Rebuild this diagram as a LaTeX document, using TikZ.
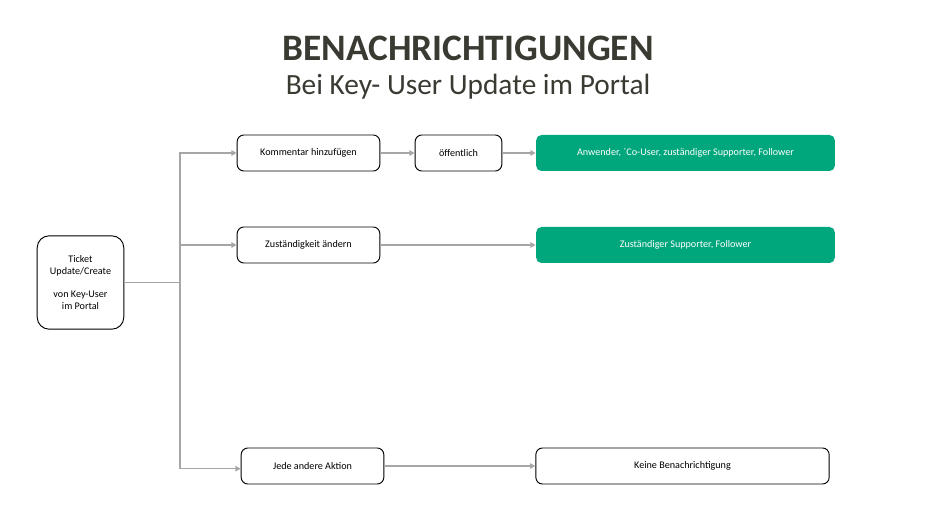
\documentclass[tikz,border=0pt]{standalone}
\usepackage{fontspec}
\setmainfont{Carlito}
\usepackage{tikz}
\usetikzlibrary{arrows.meta, positioning}
\definecolor{gruen}{HTML}{00A67C}
\definecolor{titelgrau}{HTML}{3A3A33}
\definecolor{linie}{HTML}{A6A6A6}

\begin{document}
\begin{tikzpicture}[x=0.75pt, y=-0.75pt,
    kasten/.style={draw, rounded corners=5pt, line width=0.7pt, minimum height=27pt,
                   align=center, font=\fontsize{7.6}{9}\selectfont, fill=white},
    ziel/.style={kasten, draw=none, fill=gruen, text=white, rounded corners=4pt},
    seta/.style={-{Triangle[length=4pt, width=4pt]}, line width=1.2pt, linie},
    stamm/.style={line width=1.2pt, linie}
]
    \useasboundingbox (0,0) rectangle (935,513);
    \node[font=\fontsize{28}{32}\selectfont\bfseries, text=titelgrau] (titel) at (468,48) {BENACHRICHTIGUNGEN};
    \node[font=\fontsize{22}{26}\selectfont, text=titelgrau] (untertitel) at (468,87) {Bei Key- User Update im Portal};

    \node[kasten, minimum width=65pt, minimum height=70pt, rounded corners=9pt] (ticket) at (80.5,282.5)
        {Ticket\\Update/Create\\[8pt]von Key-User\\im Portal};
    \node[kasten, minimum width=107pt] (kommentar) at (308.5,153) {Kommentar hinzufügen};
    \node[kasten, minimum width=65pt] (oeffentlich) at (458.5,153) {öffentlich};
    \node[ziel, minimum width=224pt] (anwender) at (685.5,153) {Anwender, ´Co-User, zuständiger Supporter, Follower};
    \node[kasten, minimum width=107pt] (zustaendig) at (308.5,245) {Zuständigkeit ändern};
    \node[ziel, minimum width=224pt] (supporter) at (685.5,245) {Zuständiger Supporter, Follower};
    \node[kasten, minimum width=107pt] (andere) at (312.5,466) {Jede andere Aktion};
    \node[kasten, minimum width=220pt] (keine) at (682.5,466) {Keine Benachrichtigung};

    \coordinate (knick) at (180,282.5);
    \draw[stamm] (ticket.east) -- (knick);
    \draw[seta] (knick) |- (kommentar.west);
    \draw[seta] (knick) |- (zustaendig.west);
    \draw[seta] (knick) |- ([yshift=-2pt]andere.west);
    \draw[seta] (kommentar) -- (oeffentlich);
    \draw[seta] (oeffentlich) -- (anwender);
    \draw[seta] (zustaendig) -- (supporter);
    \draw[seta] (andere) -- (keine);
\end{tikzpicture}
\end{document}
